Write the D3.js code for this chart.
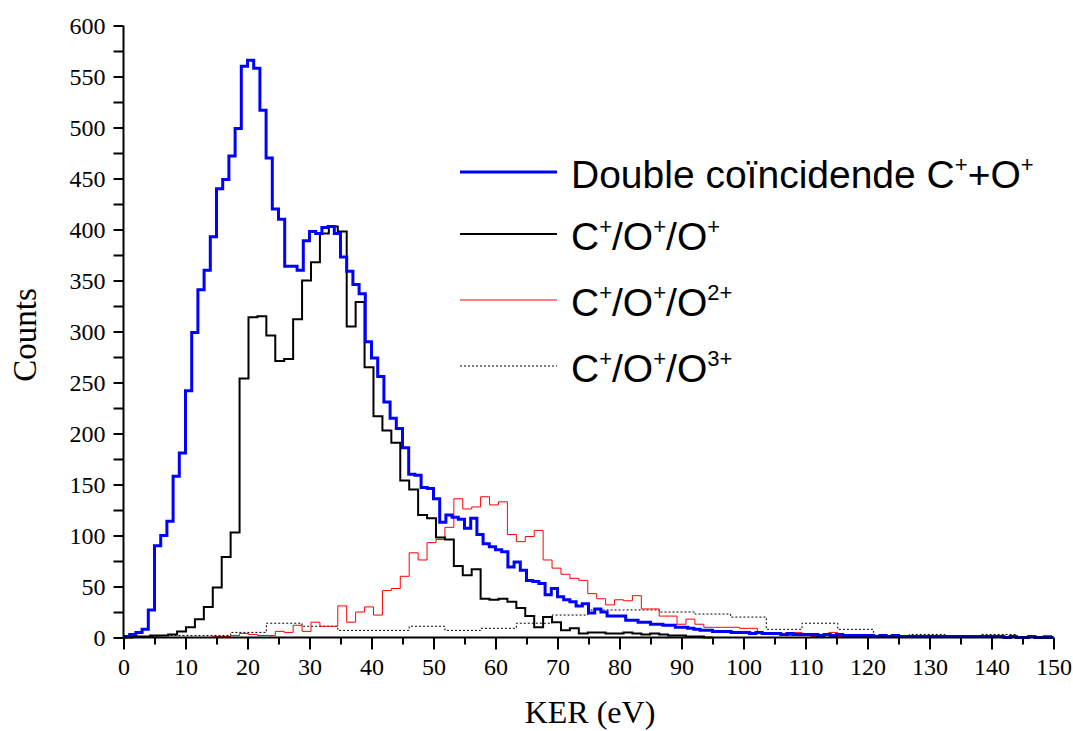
<!DOCTYPE html>
<html>
<head>
<meta charset="utf-8">
<script src="https://cdn.jsdelivr.net/npm/d3@7"></script>
<style>
  html, body { margin: 0; padding: 0; background: #fff; }
  svg { display: block; }
</style>
</head>
<body>
<svg id="chart" width="1073" height="731"></svg>
<script>
// ---------- DATA ----------
// Blue: "Double coincidence C+ + O+", 1 eV bins starting at 0 eV
const blueBinWidth = 1;
const blueCounts = [
  1, 3, 5, 8, 27, 90, 100, 114, 158, 181,
  242, 299, 341, 360, 393, 440, 449, 472, 499, 560,
  566, 558, 517, 470, 420, 410, 364, 364, 360, 389,
  398, 396, 402, 403, 396, 373, 359, 346, 337, 290,
  274, 256, 231, 215, 205, 186, 160, 159, 147, 146,
  136, 113, 120, 118, 116, 107, 117, 101, 92, 89,
  86, 84, 69, 74, 66, 56, 55, 53, 42, 48,
  40, 37, 35, 31, 33, 24, 28, 25, 21, 21,
  21, 17, 17, 15, 15, 13, 13, 12, 12, 10,
  10, 9, 8, 7, 7, 6, 6, 6, 5, 5,
  5, 4, 5, 4, 4, 4, 3, 4, 3, 3,
  3, 3, 2, 3, 2, 3, 2, 2, 2, 2,
  2, 1, 2, 1, 2, 1, 1, 1, 1, 1,
  1, 1, 1, 1, 1, 1, 1, 1, 1, 1,
  1, 1, 0, 1, 0, 0, 1, 0, 0, 0
];
// Black: C+/O+/O+, 1.44 eV bins
const tripleBinWidth = 1.44;
const blackCounts = [
  0, 1, 1, 2, 2, 3, 6, 10, 18, 30,
  49, 79, 103, 254, 314, 315, 296, 271, 273, 312,
  350, 368, 396, 403, 398, 305, 329, 265, 217, 203,
  191, 154, 145, 120, 117, 98, 96, 70, 61, 67,
  38, 37, 38, 35, 29, 21, 10, 20, 15, 7,
  9, 4, 5, 5, 4, 4, 5, 4, 3, 4,
  3, 2, 2, 1, 1, 0
];
// Red: C+/O+/O2+, 1.44 eV bins
const redCounts = [
  0, 0, 0, 0, 0, 0, 0, 0, 0, 0,
  1, 1, 2, 4, 3, 2, 2, 6, 5, 12,
  6, 15, 11, 11, 31, 15, 25, 30, 22, 46,
  48, 60, 83, 76, 93, 96, 108, 136, 126, 128,
  138, 130, 133, 101, 94, 99, 105, 76, 68, 62,
  58, 56, 43, 38, 32, 37, 36, 41, 28, 28,
  21, 21, 13, 18, 13, 10, 10, 10, 10, 9,
  9, 4, 4, 3, 2, 5, 2, 1, 2, 5,
  1, 1, 2, 1, 1, 0, 0, 0, 1, 0,
  0, 0, 0, 0, 1, 0, 0, 0, 0, 0,
  0, 0, 0, 2
];
// Dotted: C+/O+/O3+, 5.76 eV bins
const dottedBinWidth = 5.76;
const dottedCounts = [
  1, 2, 2, 5, 14, 11, 7, 7, 11, 7,
  9, 14, 22, 27, 27, 25, 23, 20, 8, 14,
  8, 0, 3, 0, 3, 0
];

const xTicksMajor = [0, 10, 20, 30, 40, 50, 60, 70, 80, 90, 100, 110, 120, 130, 140, 150];
const yTicksMajor = [0, 50, 100, 150, 200, 250, 300, 350, 400, 450, 500, 550, 600];

const legendRows = [
  { parts: [["Double coïncidende C", false], ["+", true], ["+O", false], ["+", true]] },
  { parts: [["C", false], ["+", true], ["/O", false], ["+", true], ["/O", false], ["+", true]] },
  { parts: [["C", false], ["+", true], ["/O", false], ["+", true], ["/O", false], ["2+", true]] },
  { parts: [["C", false], ["+", true], ["/O", false], ["+", true], ["/O", false], ["3+", true]] }
];

// ---------- CHART ----------
const svg = d3.select("#chart");
const margin = { left: 123.5, right: 1073 - 1053.5, top: 25.5, bottom: 731 - 637.5 };

const x = d3.scaleLinear().domain([0, 150]).range([margin.left, 1053.5]);
const y = d3.scaleLinear().domain([0, 600]).range([637.5, margin.top]);

function histPoints(counts, w) {
  const pts = counts.map((c, i) => [i * w, c]);
  const lastEdge = Math.min(counts.length * w, 150);
  pts.push([lastEdge, counts[counts.length - 1]]);
  return pts.filter(p => p[0] <= 150.0001);
}
const line = d3.line().x(d => x(Math.min(d[0], 150))).y(d => y(d[1])).curve(d3.curveStepAfter);

const series = [
  { counts: dottedCounts, w: dottedBinWidth, color: "#000", width: 1, dash: "2,2" },
  { counts: redCounts, w: tripleBinWidth, color: "#ff0000", width: 1, dash: null },
  { counts: blackCounts, w: tripleBinWidth, color: "#000", width: 2, dash: null },
  { counts: blueCounts, w: blueBinWidth, color: "#0000ff", width: 3, dash: null }
];

const gData = svg.append("g");
series.forEach(s => {
  gData.append("path")
    .attr("d", line(histPoints(s.counts, s.w)))
    .attr("fill", "none")
    .attr("stroke", s.color)
    .attr("stroke-width", s.width)
    .attr("stroke-linejoin", "miter")
    .attr("stroke-dasharray", s.dash);
});

// Axes
const xMinor = d3.range(5, 150, 10);
const yMinor = d3.range(25, 600, 50);

const xAxis = d3.axisBottom(x).tickValues(xTicksMajor).tickSize(12).tickPadding(8).tickFormat(d3.format("d"));
const xAxisMinor = d3.axisBottom(x).tickValues(xMinor).tickSize(7).tickFormat("");
const yAxis = d3.axisLeft(y).tickValues(yTicksMajor).tickSize(10).tickPadding(8).tickFormat(d3.format("d"));
const yAxisMinor = d3.axisLeft(y).tickValues(yMinor).tickSize(10).tickFormat("");

function styleAxis(g) {
  g.select(".domain").attr("stroke", "#000").attr("stroke-width", 2);
  g.selectAll(".tick line").attr("stroke", "#000").attr("stroke-width", 2);
  g.selectAll(".tick text")
    .attr("fill", "#000")
    .style("font-family", "'Liberation Serif', 'Times New Roman', serif")
    .style("font-size", "24px");
}

const gx = svg.append("g").attr("transform", `translate(0,${y(0)})`).call(xAxis).call(styleAxis);
gx.select(".domain").attr("d", `M${x(0)},0H${x(150)}`);
const gxm = svg.append("g").attr("transform", `translate(0,${y(0)})`).call(xAxisMinor).call(styleAxis);
gxm.select(".domain").remove();

const gy = svg.append("g").attr("transform", `translate(${x(0)},0)`).call(yAxis).call(styleAxis);
gy.select(".domain").attr("d", `M0,${y(600)}V${y(0)}`);
const gym = svg.append("g").attr("transform", `translate(${x(0)},0)`).call(yAxisMinor).call(styleAxis);
gym.select(".domain").remove();

// Axis titles
svg.append("text")
  .attr("x", 590).attr("y", 723)
  .attr("text-anchor", "middle")
  .style("font-family", "'Liberation Serif', 'Times New Roman', serif")
  .style("font-size", "32px")
  .text("KER (eV)");

svg.append("text")
  .attr("transform", "translate(36,335) rotate(-90)")
  .attr("text-anchor", "middle")
  .style("font-family", "'Liberation Serif', 'Times New Roman', serif")
  .style("font-size", "33px")
  .text("Counts");

// Legend
const legendX1 = 460, legendX2 = 557, legendTextX = 571;
const legendY = [172, 234, 300, 366];
const legendSeries = [series[3], series[2], series[1], series[0]];
legendRows.forEach((row, i) => {
  const s = legendSeries[i];
  svg.append("line")
    .attr("x1", legendX1).attr("x2", legendX2)
    .attr("y1", legendY[i]).attr("y2", legendY[i])
    .attr("stroke", s.color)
    .attr("stroke-width", s.width)
    .attr("stroke-dasharray", s.dash);
  const t = svg.append("text")
    .attr("x", legendTextX).attr("y", legendY[i] + 16)
    .style("font-family", "'Liberation Sans', Arial, sans-serif")
    .style("font-size", "39px")
    .attr("fill", "#000");
  let raised = false;
  row.parts.forEach(([txt, sup]) => {
    const ts = t.append("tspan").text(txt);
    if (sup && !raised) { ts.attr("dy", -16).style("font-size", "22px"); raised = true; }
    else if (sup && raised) { ts.style("font-size", "22px"); }
    else if (!sup && raised) { ts.attr("dy", 16); raised = false; }
  });
});
</script>
</body>
</html>
